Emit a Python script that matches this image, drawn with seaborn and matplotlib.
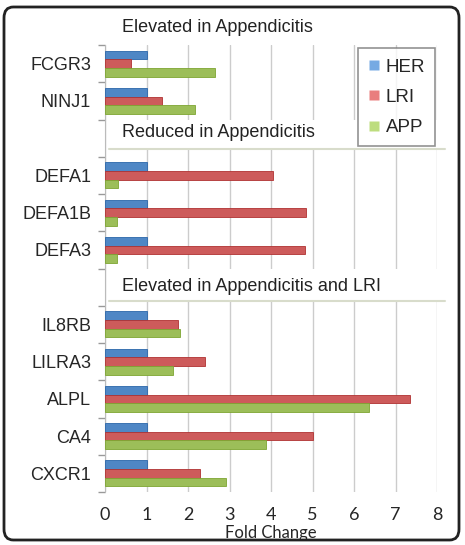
import matplotlib
matplotlib.use('Agg')
import matplotlib.pyplot as plt
import pandas as pd
import seaborn as sb
from matplotlib.patches import FancyBboxPatch, Rectangle
from matplotlib.lines import Line2D

# rows top to bottom; blank strings are the section-label slots
genes = ['FCGR3', 'NINJ1', ' ', 'DEFA1', 'DEFA1B', 'DEFA3', '  ',
         'IL8RB', 'LILRA3', 'ALPL', 'CA4', 'CXCR1']
groups = ['HER', 'LRI', 'APP']
her = [1, 1, None, 1, 1, 1, None, 1, 1, 1, 1, 1]
lri = [0.62, 1.38, None, 4.05, 4.85, 4.83, None, 1.77, 2.42, 7.35, 5.0, 2.3]
app = [2.65, 2.18, None, 0.32, 0.3, 0.28, None, 1.8, 1.65, 6.35, 3.88, 2.92]
sections = ['Elevated in Appendicitis', 'Reduced in Appendicitis',
            'Elevated in Appendicitis and LRI']
xticks = [0, 1, 2, 3, 4, 5, 6, 7, 8]

colors = ['#3C86D8', '#E04848', '#A2CF48']
edges = ['#2A66AA', '#B03232', '#7EA532']

rows = []
for g, vals in zip(groups, [her, lri, app]):
    for gene, v in zip(genes, vals):
        if v is not None:
            rows.append({'gene': gene, 'group': g, 'value': v})
df = pd.DataFrame(rows)

sb.set_style('white')
plt.rcParams['font.family'] = ['Liberation Sans', 'DejaVu Sans']

fig = plt.figure(figsize=(4.65, 5.45), dpi=100)
ax = fig.add_axes([105/465, 1-492/545, 332/465, 447/545])

sb.barplot(data=df, y='gene', x='value', hue='group', order=genes,
           hue_order=groups, palette=colors, width=0.7, ax=ax,
           legend=False, zorder=3)
for i, cont in enumerate(ax.containers):
    for b in cont:
        b.set_edgecolor(edges[i])
        b.set_linewidth(0.6)

ax.set_xlim(0, 8)
ax.set_ylim(len(genes) - 0.5, -0.5)
ax.set_xticks(xticks)
ax.set_xticklabels([str(t) for t in xticks], fontsize=13, family='Lato')
ax.tick_params(axis='x', length=0, pad=11)
ax.set_yticks(range(len(genes)))
ax.set_yticklabels(genes, fontsize=13)
ax.tick_params(axis='y', length=0, pad=10)
ax.set_yticks([i - 0.5 for i in range(len(genes) + 1)], minor=True)
ax.tick_params(axis='y', which='minor', left=True, length=5,
               color='#999999', width=1)
ax.set_ylabel('')
ax.set_xlabel('Fold Change', fontsize=12, family='Lato', labelpad=1)
ax.grid(axis='x', color='#cccccc', linewidth=1, zorder=0)
ax.set_axisbelow(True)
for s in ['top', 'right', 'bottom']:
    ax.spines[s].set_visible(False)
ax.spines['left'].set_color('#bbbbbb')

# white label boxes in the blank slots
for top, bottom in [(1.5, 2.28), (5.5, 6.36)]:
    ax.add_patch(Rectangle((0.1, top), 8.1, bottom - top, facecolor='white',
                           edgecolor='none', zorder=4, clip_on=False))
    ax.plot([0.1, 8.2], [bottom, bottom], color='#d8dccb', lw=1.5,
            zorder=5, clip_on=False)
ax.text(0.41, -0.98, sections[0], fontsize=13, va='center', ha='left',
        color='#222222', clip_on=False)
ax.text(0.41, 1.85, sections[1], fontsize=13, va='center', ha='left',
        color='#222222', zorder=6)
ax.text(0.41, 5.98, sections[2], fontsize=13, va='center', ha='left',
        color='#222222', zorder=6)

handles = [Line2D([], [], marker='s', linestyle='', markersize=7,
                  markerfacecolor=c, markeredgecolor='none', alpha=0.7)
           for c in colors]
leg = ax.legend(handles, groups, loc='upper right',
                bbox_to_anchor=(0.995, 0.993), borderaxespad=0,
                fontsize=13.5, frameon=True, fancybox=False,
                handlelength=0.6, handletextpad=0.3, labelspacing=0.7,
                borderpad=0.55, edgecolor='#777777')
leg.get_frame().set_linewidth(1.2)
leg.set_zorder(10)

# rounded outer frame
fig.patches.append(FancyBboxPatch((4/465, 5/545), 455/465, 533/545,
                                  boxstyle='round,pad=0,rounding_size=0.02',
                                  transform=fig.transFigure, fill=False,
                                  edgecolor='#222222', linewidth=2))

fig.savefig('out.png', dpi=100)
